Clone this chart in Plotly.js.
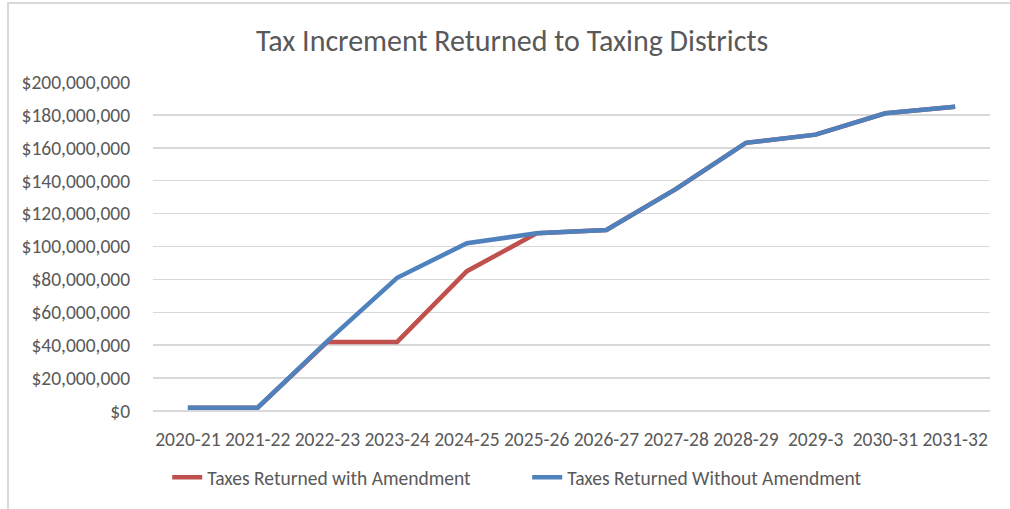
<!DOCTYPE html>
<html>
<head>
<meta charset="utf-8">
<script src="https://cdn.plot.ly/plotly-3.0.1.min.js"></script>
<style>
  html, body { margin: 0; padding: 0; background: #fff; }
  #wrap { position: relative; width: 1010px; height: 509px; overflow: hidden; }
  #frame { position: absolute; left: 7px; top: 2px; width: 1010px; height: 520px;
           border-left: 2px solid #d9d9d9; border-top: 2px solid #d9d9d9; box-sizing: border-box; pointer-events: none; }
  #chart { position: absolute; left: 0; top: 0; width: 1010px; height: 509px; }
</style>
</head>
<body>
<div id="wrap">
  <div id="chart"></div>
  <div id="frame"></div>
</div>
<script>
const years = ["2020-21","2021-22","2022-23","2023-24","2024-25","2025-26","2026-27","2027-28","2028-29","2029-3","2030-31","2031-32"];
const withAmendment = [2000000, 2000000, 42000000, 42000000, 85000000, 108000000, 110000000, 135000000, 163000000, 168000000, 181000000, 185000000];
const withoutAmendment = [2000000, 2000000, 42500000, 81000000, 102000000, 108000000, 110000000, 135000000, 163000000, 168000000, 181000000, 185000000];
const yTicks = [0, 20000000, 40000000, 60000000, 80000000, 100000000, 120000000, 140000000, 160000000, 180000000, 200000000];

const FONT = "Carlito, 'Liberation Sans Narrow', Lato, sans-serif";
const GREY = "#595959";

const traces = [
  { x: years, y: withAmendment, type: "scatter", mode: "lines", name: "Taxes Returned with Amendment",
    line: { color: "#c0504d", width: 4.5 } },
  { x: years, y: withoutAmendment, type: "scatter", mode: "lines", name: "Taxes Returned Without Amendment",
    line: { color: "#4f81bd", width: 4.5 } }
];

const layout = {
  width: 1010, height: 509,
  margin: { l: 153, r: 20, t: 82, b: 95 },
  paper_bgcolor: "rgba(0,0,0,0)", plot_bgcolor: "#fff",
  font: { family: FONT, color: GREY, size: 19.5 },
  title: { text: "Tax Increment Returned to Taxing Districts", font: { family: FONT, size: 30, color: GREY },
           x: 0.507, xanchor: "center", y: 0.921, yanchor: "middle", yref: "container" },
  xaxis: { type: "category", tickvals: years, ticktext: years, showgrid: false, zeroline: false,
           showline: false, ticks: "outside", ticklen: 11, tickcolor: "rgba(0,0,0,0)",
           tickfont: { family: FONT, size: 19.5, color: GREY }, range: [-0.5, 11.5], fixedrange: true },
  yaxis: { range: [0, 200000000], tickvals: yTicks, tickformat: "$,.0f", showgrid: true,
           gridcolor: "#d9d9d9", gridwidth: 1.5, zeroline: true, zerolinecolor: "#d9d9d9", zerolinewidth: 1.5,
           showline: false, ticks: "outside", ticklen: 18, tickcolor: "rgba(0,0,0,0)",
           tickfont: { family: FONT, size: 19.5, color: GREY }, fixedrange: true },
  showlegend: true,
  legend: { orientation: "h", x: 0.017, xanchor: "left", y: -0.202, yanchor: "middle",
            entrywidth: 315, entrywidthmode: "pixels", itemwidth: 30,
            font: { family: FONT, size: 19.5, color: GREY }, bgcolor: "rgba(0,0,0,0)" }
};

Plotly.newPlot("chart", traces, layout, { displayModeBar: false, staticPlot: true });
</script>
</body>
</html>
